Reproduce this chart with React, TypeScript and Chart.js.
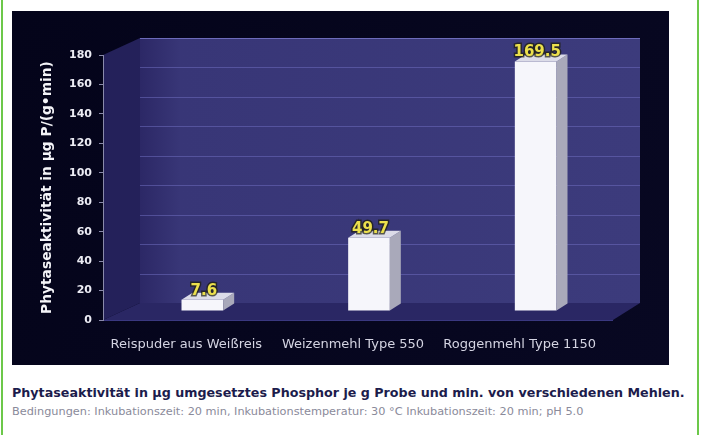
import React, { useEffect, useRef } from "react";
import { Chart, registerables } from "chart.js";

Chart.register(...registerables);

const categories = ["Reispuder aus Weißreis", "Weizenmehl Type 550", "Roggenmehl Type 1150"];
const activity = [7.6, 49.7, 169.5];
const yTickValues = [0, 20, 40, 60, 80, 100, 120, 140, 160, 180];
const yTitle = "Phytaseaktivität in µg P/(g•min)";
const caption = "Phytaseaktivität in µg umgesetztes Phosphor je g Probe und min. von verschiedenen Mehlen.";
const conditions = "Bedingungen: Inkubationszeit: 20 min, Inkubationstemperatur: 30 °C Inkubationszeit: 20 min; pH 5.0";

const FONT = "'DejaVu Sans', Verdana, sans-serif";
const DEPTH = { x: 37, y: 17 };
const BAR_SHIFT = { x: 16, y: 9 };
const BAR_DEPTH = { x: 11, y: 7 };

const threeD = {
  id: "threeD",
  beforeDraw(chart: any) {
    const { ctx, width, height } = chart;
    const { left: L, right: R, top: T, bottom: B } = chart.chartArea;
    const ys = chart.scales.y;
    ctx.save();
    const bg = ctx.createLinearGradient(0, 0, width, height);
    bg.addColorStop(0, "#04041a");
    bg.addColorStop(1, "#080822");
    ctx.fillStyle = bg;
    ctx.fillRect(0, 0, width, height);
    // back wall
    const wg = ctx.createLinearGradient(L + DEPTH.x, 0, R + DEPTH.x, 0);
    wg.addColorStop(0, "#2c2866");
    wg.addColorStop(0.08, "#383677");
    wg.addColorStop(1, "#3c3b7c");
    ctx.fillStyle = wg;
    ctx.fillRect(L + DEPTH.x, T - DEPTH.y, R - L, B - T);
    // left wall
    ctx.fillStyle = "#24215a";
    ctx.beginPath();
    ctx.moveTo(L, T);
    ctx.lineTo(L + DEPTH.x, T - DEPTH.y);
    ctx.lineTo(L + DEPTH.x, B - DEPTH.y);
    ctx.lineTo(L, B);
    ctx.closePath();
    ctx.fill();
    // floor
    ctx.fillStyle = "#2a2764";
    ctx.beginPath();
    ctx.moveTo(L, B);
    ctx.lineTo(L + DEPTH.x, B - DEPTH.y);
    ctx.lineTo(R + DEPTH.x, B - DEPTH.y);
    ctx.lineTo(R + 10, B);
    ctx.closePath();
    ctx.fill();
    ctx.strokeStyle = "#3a3880";
    ctx.lineWidth = 1;
    ctx.beginPath();
    ctx.moveTo(L, B + 0.5);
    ctx.lineTo(R + 10, B + 0.5);
    ctx.stroke();
    // grid lines on back wall
    ctx.strokeStyle = "rgba(110,108,190,0.55)";
    yTickValues.forEach((v) => {
      if (v === 0) return;
      const y = Math.round(ys.getPixelForValue(v) - DEPTH.y) + 0.5;
      ctx.beginPath();
      ctx.moveTo(L + DEPTH.x, y);
      ctx.lineTo(R + DEPTH.x, y);
      ctx.stroke();
    });
    ctx.strokeStyle = "rgba(120,118,200,0.7)";
    ctx.beginPath();
    ctx.moveTo(L + DEPTH.x, T - DEPTH.y + 0.5);
    ctx.lineTo(R + DEPTH.x, T - DEPTH.y + 0.5);
    ctx.stroke();
    ctx.restore();
  },
  beforeDatasetsDraw(chart: any) {
    chart.ctx.save();
    chart.ctx.translate(BAR_SHIFT.x, -BAR_SHIFT.y);
  },
  afterDatasetsDraw(chart: any) {
    const { ctx } = chart;
    const meta = chart.getDatasetMeta(0);
    meta.data.forEach((bar: any, i: number) => {
      const { x, y, base, width } = bar.getProps(["x", "y", "base", "width"], true);
      const l = x - width / 2;
      const r = x + width / 2;
      ctx.fillStyle = "#a9a9ba";
      ctx.beginPath();
      ctx.moveTo(r, y);
      ctx.lineTo(r + BAR_DEPTH.x, y - BAR_DEPTH.y);
      ctx.lineTo(r + BAR_DEPTH.x, base - BAR_DEPTH.y);
      ctx.lineTo(r, base);
      ctx.closePath();
      ctx.fill();
      ctx.fillStyle = "#dcdce8";
      ctx.beginPath();
      ctx.moveTo(l, y);
      ctx.lineTo(l + BAR_DEPTH.x, y - BAR_DEPTH.y);
      ctx.lineTo(r + BAR_DEPTH.x, y - BAR_DEPTH.y);
      ctx.lineTo(r, y);
      ctx.closePath();
      ctx.fill();
      ctx.font = "bold 15px " + FONT;
      ctx.textAlign = "center";
      ctx.textBaseline = "alphabetic";
      const tx = x + BAR_DEPTH.x / 2 - 4;
      const ty = y - BAR_DEPTH.y + 2;
      ctx.lineWidth = 3;
      ctx.strokeStyle = "rgba(30,30,10,0.7)";
      ctx.strokeText(String(activity[i]), tx, ty);
      ctx.fillStyle = "#ece04c";
      ctx.fillText(String(activity[i]), tx, ty);
    });
    ctx.restore();
  },
};

function ChartPanel() {
  const ref = useRef<HTMLCanvasElement | null>(null);
  useEffect(() => {
    if (!ref.current) return;
    const chart = new Chart(ref.current, {
      type: "bar",
      data: {
        labels: categories,
        datasets: [
          {
            data: activity,
            backgroundColor: "#f6f6fb",
            borderWidth: 0,
            barPercentage: 0.25,
            categoryPercentage: 1,
            clip: false,
          } as any,
        ],
      },
      options: {
        animation: false,
        responsive: true,
        maintainAspectRatio: false,
        layout: { padding: { top: 44, right: 66, left: 0, bottom: 0 } },
        plugins: { legend: { display: false }, tooltip: { enabled: false } },
        scales: {
          x: {
            grid: { display: false },
            border: { display: false },
            ticks: {
              color: "#d4d4e2",
              font: { size: 13, family: FONT },
              padding: 9,
              maxRotation: 0,
              autoSkip: false,
            },
            afterFit: (s: any) => {
              s.height = 45;
            },
          },
          y: {
            min: 0,
            max: 180,
            afterBuildTicks: (s: any) => {
              s.ticks = yTickValues.map((v) => ({ value: v }));
            },
            grid: { drawOnChartArea: false, drawTicks: true, tickLength: 4, tickColor: "#8a8aaa" },
            border: { display: true, color: "#8a8aaa", dash: [2, 2] },
            ticks: {
              color: "#ececf4",
              font: { size: 11, weight: "bold", family: FONT },
              padding: 7,
            },
            title: {
              display: true,
              text: yTitle,
              color: "#f4f4f8",
              font: { size: 13.8, weight: "bold", family: FONT },
              padding: { top: 27, bottom: 0 },
            },
            afterFit: (s: any) => {
              s.width = 91;
            },
          },
        },
      },
      plugins: [threeD],
    });
    return () => chart.destroy();
  }, []);
  return (
    <div style={{ position: "absolute", left: 12, top: 11, width: 657, height: 354 }}>
      <canvas ref={ref} />
    </div>
  );
}

export default function App() {
  return (
    <div
      style={{
        position: "absolute",
        left: 0,
        top: 0,
        width: 704,
        height: 435,
        background: "#ffffff",
        overflow: "hidden",
        fontFamily: FONT,
      }}
    >
      <div style={{ position: "absolute", left: 1, top: 0, width: 2, height: 435, background: "#6cc84a" }} />
      <div style={{ position: "absolute", left: 697, top: 0, width: 2, height: 435, background: "#6cc84a" }} />
      <ChartPanel />
      <div
        style={{
          position: "absolute",
          left: 12,
          top: 385,
          fontSize: 12.7,
          fontWeight: "bold",
          color: "#1c1c4c",
          whiteSpace: "nowrap",
        }}
      >
        {caption}
      </div>
      <div
        style={{
          position: "absolute",
          left: 12,
          top: 405,
          fontSize: 11.3,
          color: "#8a8a9a",
          whiteSpace: "nowrap",
        }}
      >
        {conditions}
      </div>
    </div>
  );
}
